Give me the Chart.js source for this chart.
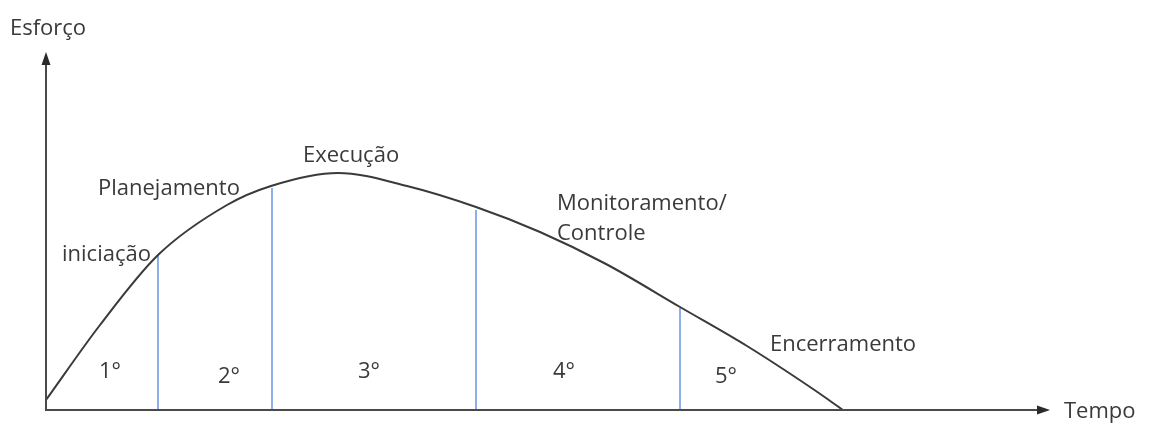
<!DOCTYPE html>
<html>
<head>
<meta charset="utf-8">
<script src="https://cdn.jsdelivr.net/npm/chart.js@4.4.1/dist/chart.umd.min.js"></script>
<style>
  html, body { margin: 0; padding: 0; background: #ffffff; }
  #wrap { width: 1149px; height: 425px; position: relative; }
</style>
</head>
<body>
<div id="wrap"><canvas id="c"></canvas></div>
<script>
// ---- Data (time vs effort, arbitrary units) ----
const curveTime   = [0, 54, 112, 181, 225, 292, 361, 430, 494, 560, 634, 701, 767, 797];
const curveEffort = [10, 85, 155, 205, 224, 237, 224, 203, 178, 146, 103, 64, 21, 0];

// phase boundaries (time) and the height of each boundary line
const boundaryTime   = [112, 226, 430, 634];
const boundaryEffort = [155, 222, 200, 102];

const phaseNames  = ["iniciação", "Planejamento", "Execução", "Monitoramento/\nControle", "Encerramento"];
const phaseOrders = ["1°", "2°", "3°", "4°", "5°"];
const axisTitleY = "Esforço";
const axisTitleX = "Tempo";

const xMax = 1004, yMax = 358;

// label placement in data coordinates (left, baseline)
const phaseNamePos  = [[16, 149], [52, 215], [257, 248], [511, 200], [724, 59]];
const phaseOrderPos = [[53, 32], [172, 27], [312, 32], [507, 32], [669, 27]];
const titleYPos = [-36, 375];
const titleXPos = [1018, -8];

const TEXT_COLOR = '#3a3a3a';
const FONT = '22px "Open Sans", "DejaVu Sans", sans-serif';

const datasets = [{
  label: 'Esforço',
  data: curveTime.map((t, i) => ({ x: t, y: curveEffort[i] })),
  borderColor: '#3a3a3a',
  borderWidth: 2,
  pointRadius: 0,
  cubicInterpolationMode: 'monotone',
  fill: false
}];
boundaryTime.forEach((t, i) => {
  datasets.push({
    label: 'fase ' + (i + 1),
    data: [{ x: t, y: 0 }, { x: t, y: boundaryEffort[i] }],
    borderColor: '#8daee8',
    borderWidth: 2,
    pointRadius: 0,
    tension: 0,
    fill: false
  });
});

const decorPlugin = {
  id: 'decor',
  afterDatasetsDraw(chart) {
    const ctx = chart.ctx;
    const xs = chart.scales.x, ys = chart.scales.y;
    const x0 = xs.getPixelForValue(0), y0 = ys.getPixelForValue(0);
    const xEnd = xs.getPixelForValue(xMax), yTop = ys.getPixelForValue(yMax);
    ctx.save();
    // axes
    ctx.strokeStyle = '#4a4a4a';
    ctx.fillStyle = '#2a2a2a';
    ctx.lineWidth = 2;
    ctx.beginPath();
    ctx.moveTo(x0, y0 + 1);
    ctx.lineTo(x0, yTop + 10);
    ctx.moveTo(x0 - 1, y0);
    ctx.lineTo(xEnd - 10, y0);
    ctx.stroke();
    // arrow heads
    ctx.beginPath();
    ctx.moveTo(x0, yTop);
    ctx.lineTo(x0 - 4.5, yTop + 13);
    ctx.lineTo(x0 + 4.5, yTop + 13);
    ctx.closePath();
    ctx.fill();
    ctx.beginPath();
    ctx.moveTo(xEnd, y0);
    ctx.lineTo(xEnd - 13, y0 - 4.5);
    ctx.lineTo(xEnd - 13, y0 + 4.5);
    ctx.closePath();
    ctx.fill();

    // texts
    ctx.fillStyle = TEXT_COLOR;
    ctx.font = FONT;
    ctx.textAlign = 'left';
    ctx.textBaseline = 'alphabetic';
    const put = (txt, pos) => {
      const lines = txt.split('\n');
      const px = xs.getPixelForValue(pos[0]);
      const py = ys.getPixelForValue(pos[1]);
      lines.forEach((l, k) => ctx.fillText(l, px, py + k * 30));
    };
    phaseNames.forEach((n, i) => put(n, phaseNamePos[i]));
    phaseOrders.forEach((n, i) => put(n, phaseOrderPos[i]));
    put(axisTitleY, titleYPos);
    put(axisTitleX, titleXPos);
    ctx.restore();
  }
};

new Chart(document.getElementById('c'), {
  type: 'line',
  data: { datasets },
  options: {
    responsive: true,
    maintainAspectRatio: false,
    animation: false,
    layout: { padding: { left: 46, right: 99, top: 52, bottom: 15 } },
    plugins: { legend: { display: false }, tooltip: { enabled: false } },
    scales: {
      x: { type: 'linear', min: 0, max: xMax, display: false },
      y: { type: 'linear', min: 0, max: yMax, display: false }
    }
  },
  plugins: [decorPlugin]
});
</script>
</body>
</html>
